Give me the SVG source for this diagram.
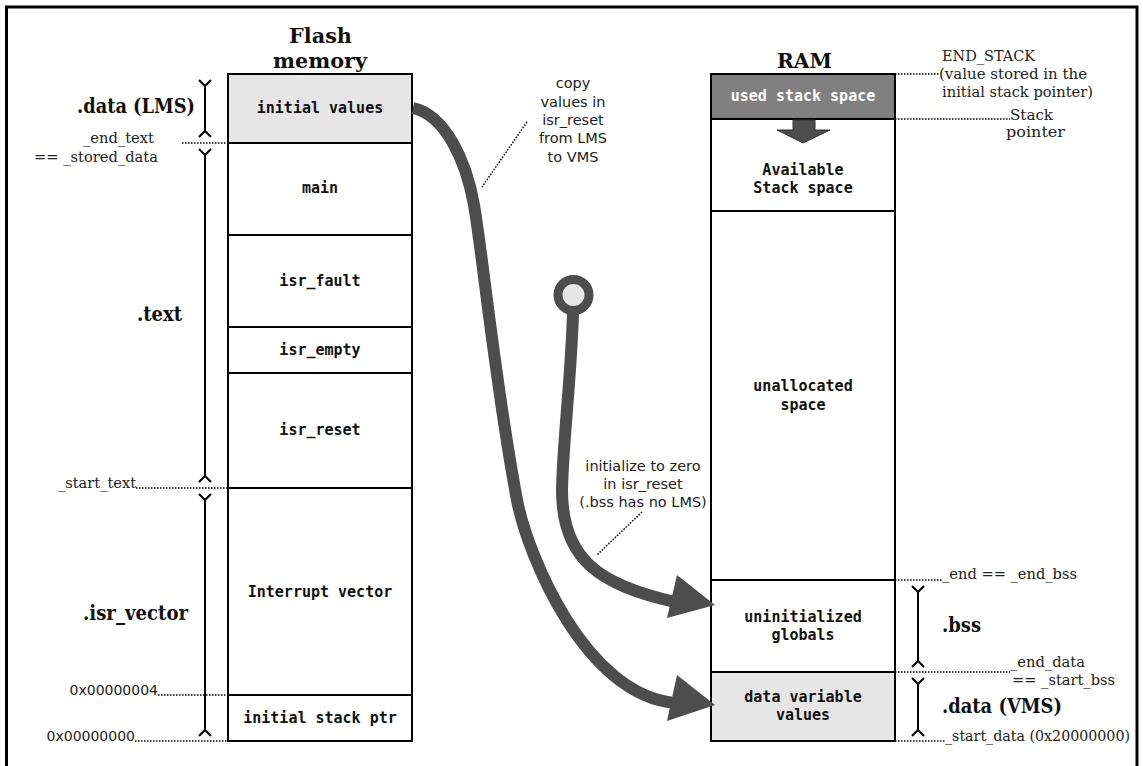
<svg xmlns="http://www.w3.org/2000/svg" width="1143" height="766" viewBox="0 0 1143 766">
<style>
.box{stroke:#000;stroke-width:2;fill:#fff}
.lt{fill:#e6e6e6}
.dk{fill:#808080}
.mono{font-family:"DejaVu Sans Mono","Liberation Mono",monospace;font-weight:bold;font-size:15px;text-anchor:middle;fill:#111}
.hd{font-family:"DejaVu Serif","Liberation Serif",serif;font-weight:bold;font-size:21px;fill:#111}
.sr{font-family:"DejaVu Serif","Liberation Serif",serif;font-size:14px;fill:#222}
.sn{font-family:"DejaVu Sans","Liberation Sans",sans-serif;font-size:14px;fill:#222}
.cn{font-family:"DejaVu Sans","Liberation Sans",sans-serif;font-size:14.5px;fill:#222;text-anchor:middle}
.dot{stroke:#000;stroke-width:1.5;stroke-dasharray:1.5 1.5;fill:none}
.dim{stroke:#000;stroke-width:2;fill:none}
.flow{stroke:#4d4d4d;stroke-width:12;fill:none}
.head{fill:#4d4d4d}
</style>
<rect x="6.5" y="7" width="1130.5" height="775" fill="#fff" stroke="#000" stroke-width="3"/>

<g id="flash">
  <text class="hd" x="289" y="43" textLength="63" lengthAdjust="spacingAndGlyphs">Flash</text>
  <text class="hd" x="273" y="68" textLength="94" lengthAdjust="spacingAndGlyphs">memory</text>
  <g id="flash-initial-values"><rect class="box lt" x="228" y="74" width="184" height="69"/><text class="mono" x="320" y="113">initial values</text></g>
  <g id="flash-main"><rect class="box" x="228" y="143" width="184" height="92"/><text class="mono" x="320" y="193">main</text></g>
  <g id="flash-isr-fault"><rect class="box" x="228" y="235" width="184" height="92"/><text class="mono" x="320" y="286">isr_fault</text></g>
  <g id="flash-isr-empty"><rect class="box" x="228" y="327" width="184" height="46"/><text class="mono" x="320" y="355">isr_empty</text></g>
  <g id="flash-isr-reset"><rect class="box" x="228" y="373" width="184" height="115"/><text class="mono" x="320" y="435">isr_reset</text></g>
  <g id="flash-interrupt-vector"><rect class="box" x="228" y="488" width="184" height="207"/><text class="mono" x="320" y="597">Interrupt vector</text></g>
  <g id="flash-initial-stack-ptr"><rect class="box" x="228" y="695" width="184" height="46"/><text class="mono" x="320" y="723">initial stack ptr</text></g>
</g>

<g id="ram">
  <text class="hd" x="777" y="68" textLength="55" lengthAdjust="spacingAndGlyphs">RAM</text>
  <g id="ram-used-stack"><rect class="box dk" x="711" y="74" width="184" height="45"/><text class="mono" x="803" y="101" style="fill:#fff">used stack space</text></g>
  <g id="ram-available-stack"><rect class="box" x="711" y="119" width="184" height="92"/><text class="mono" x="803" y="175">Available</text><text class="mono" x="803" y="193">Stack space</text></g>
  <g id="ram-unallocated"><rect class="box" x="711" y="211" width="184" height="369"/><text class="mono" x="803" y="391">unallocated</text><text class="mono" x="803" y="410">space</text></g>
  <g id="ram-bss"><rect class="box" x="711" y="580" width="184" height="92"/><text class="mono" x="803" y="622">uninitialized</text><text class="mono" x="803" y="640">globals</text></g>
  <g id="ram-data"><rect class="box lt" x="711" y="672" width="184" height="69"/><text class="mono" x="803" y="702">data variable</text><text class="mono" x="803" y="720">values</text></g>
  <polygon id="stack-arrow" points="793,120 815,120 815,130 830,130 803,143 777,130 793,130" fill="#4d4d4d" stroke="#333" stroke-width="1"/>
</g>

<g id="left-labels">
  <text class="hd" x="77" y="113" textLength="118" lengthAdjust="spacingAndGlyphs">.data (LMS)</text>
  <text class="hd" x="137" y="321" textLength="45" lengthAdjust="spacingAndGlyphs">.text</text>
  <text class="hd" x="83" y="620" textLength="105" lengthAdjust="spacingAndGlyphs">.isr_vector</text>
  <text class="sr" x="83" y="143" textLength="71" lengthAdjust="spacingAndGlyphs">_end_text</text>
  <text class="sr" x="34" y="162" textLength="124" lengthAdjust="spacingAndGlyphs">== _stored_data</text>
  <text class="sr" x="58" y="488" textLength="78" lengthAdjust="spacingAndGlyphs">_start_text</text>
  <text class="sn" x="158" y="695" text-anchor="end">0x00000004</text>
  <text class="sn" x="135" y="741" text-anchor="end">0x00000000</text>
</g>

<g id="right-labels">
  <text class="sr" x="942" y="61" textLength="93" lengthAdjust="spacingAndGlyphs">END_STACK</text>
  <text class="sr" x="939" y="79" textLength="148" lengthAdjust="spacingAndGlyphs">(value stored in the</text>
  <text class="sr" x="942" y="97" textLength="151" lengthAdjust="spacingAndGlyphs">initial stack pointer)</text>
  <text class="sr" x="1010" y="120" textLength="43" lengthAdjust="spacingAndGlyphs">Stack</text>
  <text class="sr" x="1006" y="137" textLength="59" lengthAdjust="spacingAndGlyphs">pointer</text>
  <text class="sr" x="942" y="579" textLength="135" lengthAdjust="spacingAndGlyphs">_end == _end_bss</text>
  <text class="hd" x="942" y="632" textLength="39" lengthAdjust="spacingAndGlyphs">.bss</text>
  <text class="sr" x="1010" y="667" textLength="75" lengthAdjust="spacingAndGlyphs">_end_data</text>
  <text class="sr" x="1012" y="685" textLength="103" lengthAdjust="spacingAndGlyphs">== _start_bss</text>
  <text class="hd" x="942" y="713" textLength="120" lengthAdjust="spacingAndGlyphs">.data (VMS)</text>
  <text class="sr" x="945" y="741" textLength="185" lengthAdjust="spacingAndGlyphs">_start_data (0x20000000)</text>
</g>

<g id="annotations">
  <text class="cn" x="573" y="88">copy</text>
  <text class="cn" x="573" y="107">values in</text>
  <text class="cn" x="573" y="125">isr_reset</text>
  <text class="cn" x="573" y="143">from LMS</text>
  <text class="cn" x="573" y="162">to VMS</text>
  <text class="cn" x="643" y="471">initialize to zero</text>
  <text class="cn" x="643" y="489">in isr_reset</text>
  <text class="cn" x="643" y="507">(.bss has no LMS)</text>
</g>

<g id="connectors">
  <path class="dot" d="M182,143H228M136,488H228M158,695H228M135,741H228"/>
  <path class="dot" d="M895,74H940M895,119H1010M895,580H942M895,672H1010M895,741H945"/>
  <path class="dot" d="M527,122L482,187M642,512L597,555"/>
  <path class="dim" d="M199,80L205,86L211,80M205,86V131M199,137L205,131L211,137"/>
  <path class="dim" d="M199,149L205,155L211,149M205,155V476M199,482L205,476L211,482"/>
  <path class="dim" d="M199,494L205,500L211,494M205,500V730M199,736L205,730L211,736"/>
  <path class="dim" d="M912,586L918,592L924,586M918,592V661M912,667L918,661L924,667"/>
  <path class="dim" d="M912,678L918,684L924,678M918,684V730M912,736L918,730L924,736"/>
  <path id="copy-flow" class="flow" d="M413,108C445,115 466,160 474,205C482,250 496,390 517,500C527.5,555 585,695 675,703"/>
  <polygon class="head" points="677,675 715,705 667,721"/>
  <path id="bss-flow" class="flow" d="M573,313C571,380 563,440 562,490C562,560 600,585 675,602"/>
  <polygon class="head" points="677,575 715,605 667,618"/>
  <circle cx="573.5" cy="295" r="15.5" fill="#e6e6e6" stroke="#4d4d4d" stroke-width="9"/>
</g>
</svg>
